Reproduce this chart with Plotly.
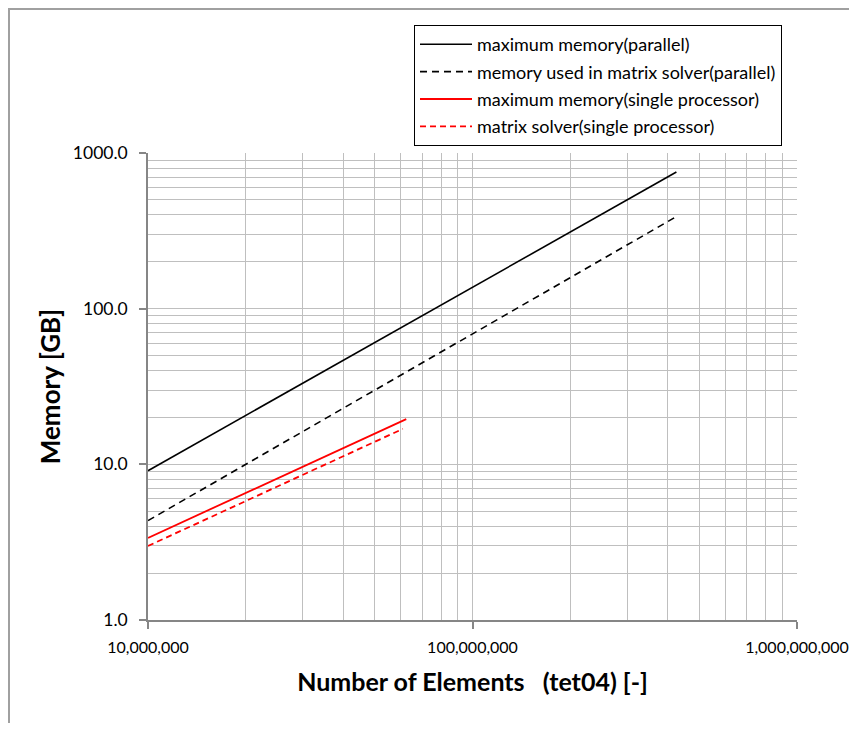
import plotly.graph_objects as go

# Data (number of elements vs memory in GB)
par_max_x = [1.0e7, 4.25e8]
par_max_y = [9.1, 755.0]
par_solver_x = [1.0e7, 4.2e8]
par_solver_y = [4.35, 385.0]
single_max_x = [1.0e7, 6.25e7]
single_max_y = [3.37, 19.5]
single_solver_x = [1.0e7, 6.1e7]
single_solver_y = [2.99, 16.9]

names = [
    "maximum memory(parallel)",
    "memory used in matrix solver(parallel)",
    "maximum memory(single processor)",
    "matrix solver(single processor)",
]

x_tickvals = [1e7, 1e8, 1e9]
x_ticktext = ["10,000,000", "100,000,000", "1,000,000,000"]
y_tickvals = [1, 10, 100, 1000]
y_ticktext = ["1.0", "10.0", "100.0", "1000.0"]

x_minor = [k * 10 ** e for e in (7, 8) for k in range(2, 10)]
y_minor = [k * 10 ** e for e in (0, 1, 2) for k in range(2, 10)]

FONT = "Lato"
OFF = 8  # page body margin
W, H = 841, 715
L, T = 148 - OFF, 153 - OFF
R = W - (797 - OFF)
B = H - (620 - OFF)
pw, ph = W - L - R, H - T - B

fig = go.Figure()
styles = [
    dict(color="black", width=1.6, dash="solid"),
    dict(color="black", width=1.6, dash="7px,5px"),
    dict(color="#FF0000", width=1.8, dash="solid"),
    dict(color="#FF0000", width=1.8, dash="6px,4px"),
]
series = [
    (par_max_x, par_max_y),
    (par_solver_x, par_solver_y),
    (single_max_x, single_max_y),
    (single_solver_x, single_solver_y),
]
for i, ((xs, ys), nm, st) in enumerate(zip(series, names, styles)):
    fig.add_trace(go.Scatter(x=xs, y=ys, mode="lines", name=nm, line=st,
                             legendgroup=f"g{i}"))

def px_x(p):
    return (p - OFF - L) / pw

def px_y(p):
    return (H - B - (p - OFF)) / ph

fig.update_layout(
    width=W, height=H,
    margin=dict(l=L, r=R, t=T, b=B, autoexpand=False),
    paper_bgcolor="white", plot_bgcolor="white",
    font=dict(family=FONT, size=16, color="black"),
    showlegend=True,
    legend=dict(
        x=px_x(414), y=px_y(25), xanchor="left", yanchor="top",
        bordercolor="black", borderwidth=1, bgcolor="white",
        font=dict(family=FONT, size=18, color="black"),
        traceorder="grouped", tracegroupgap=1, itemwidth=52,
    ),
    xaxis=dict(
        type="log", range=[7, 9],
        tickvals=x_tickvals, ticktext=x_ticktext,
        ticks="outside", ticklen=7, tickcolor="#868686", tickwidth=1.5,
        showline=True, linecolor="#868686", linewidth=1.5,
        showgrid=True, gridcolor="#BFBFBF", gridwidth=1,
        minor=dict(tickvals=x_minor, showgrid=True, gridcolor="#BFBFBF", gridwidth=1, ticks=""),
        tickfont=dict(family=FONT, size=16, color="black"),
        ticklabelstandoff=5,
        title=dict(text="<b>Number of Elements   (tet04) [-]</b>",
                   font=dict(family=FONT, size=25, color="black"), standoff=19),
        zeroline=False,
    ),
    yaxis=dict(
        type="log", range=[0, 3],
        tickvals=y_tickvals, ticktext=y_ticktext,
        ticks="outside", ticklen=7, tickcolor="#868686", tickwidth=1.5,
        showline=True, linecolor="#868686", linewidth=1.5,
        showgrid=True, gridcolor="#BFBFBF", gridwidth=1,
        minor=dict(tickvals=y_minor, showgrid=True, gridcolor="#BFBFBF", gridwidth=1, ticks=""),
        tickfont=dict(family=FONT, size=17.5, color="black"),
        ticklabelstandoff=8,
        title=dict(text="<b>Memory [GB]</b>",
                   font=dict(family=FONT, size=26, color="black"), standoff=5),
        zeroline=False,
    ),
    shapes=[
        dict(type="line", xref="paper", yref="paper", x0=px_x(8), x1=px_x(857),
             y0=px_y(9), y1=px_y(9), line=dict(color="#A0A0A0", width=2)),
        dict(type="line", xref="paper", yref="paper", x0=px_x(9), x1=px_x(9),
             y0=px_y(9), y1=px_y(731), line=dict(color="#A0A0A0", width=2)),
    ],
)

fig.write_html("out.html")
